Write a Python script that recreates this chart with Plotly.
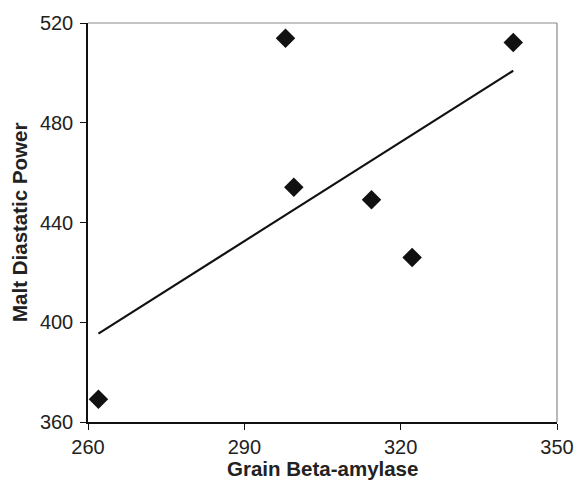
import numpy as np
import plotly.graph_objects as go

grain_beta_amylase = [262.0, 297.9, 299.5, 314.4, 322.2, 341.6]
malt_diastatic_power = [369.1, 513.9, 454.1, 449.1, 426.0, 512.2]
x_ticks = [260, 290, 320, 350]
y_ticks = [360, 400, 440, 480, 520]

slope, intercept = np.polyfit(grain_beta_amylase, malt_diastatic_power, 1)
trend_x = [min(grain_beta_amylase), max(grain_beta_amylase)]
trend_y = [slope * v + intercept for v in trend_x]

fig = go.Figure()
fig.add_trace(go.Scatter(x=trend_x, y=trend_y, mode="lines",
                         line=dict(color="#111111", width=2.2), showlegend=False))
fig.add_trace(go.Scatter(x=grain_beta_amylase, y=malt_diastatic_power, mode="markers",
                         marker=dict(symbol="diamond", size=15, color="#111111"),
                         showlegend=False))

font = "Liberation Sans, Arial, sans-serif"
fig.update_layout(
    width=586, height=485,
    margin=dict(l=88, r=19, t=19, b=63),
    paper_bgcolor="white", plot_bgcolor="white",
    font=dict(family=font, color="#222222"),
    xaxis=dict(range=[260, 350], tickvals=x_ticks, ticks="outside", ticklen=6,
               tickwidth=1.2, tickcolor="#111111", showline=True, linecolor="#111111",
               linewidth=1.5, showgrid=False, zeroline=False,
               tickfont=dict(size=20, family=font, color="#222222")),
    yaxis=dict(range=[360, 520], tickvals=y_ticks, ticks="outside", ticklen=6,
               tickwidth=1.2, tickcolor="#111111", showline=True, linecolor="#111111",
               linewidth=1.5, showgrid=False, zeroline=False, ticklabelstandoff=3,
               tickfont=dict(size=20, family=font, color="#222222")),
    shapes=[
        dict(type="line", xref="paper", yref="paper", x0=0, x1=1, y0=1, y1=1,
             line=dict(color="#8a8a8a", width=1.2)),
        dict(type="line", xref="paper", yref="paper", x0=1, x1=1, y0=0, y1=1,
             line=dict(color="#8a8a8a", width=1.2)),
    ],
    annotations=[
        dict(text="<b>Grain Beta-amylase</b>", xref="paper", yref="paper",
             x=0.5, y=-47/403, xanchor="center", yanchor="middle", showarrow=False,
             font=dict(size=20.5, family=font, color="#222222")),
        dict(text="<b>Malt Diastatic Power</b>", xref="paper", yref="paper",
             x=-70/479, y=0.5, xanchor="center", yanchor="middle", showarrow=False,
             textangle=-90, font=dict(size=20.5, family=font, color="#222222")),
    ],
)

fig.write_html("out.html")
